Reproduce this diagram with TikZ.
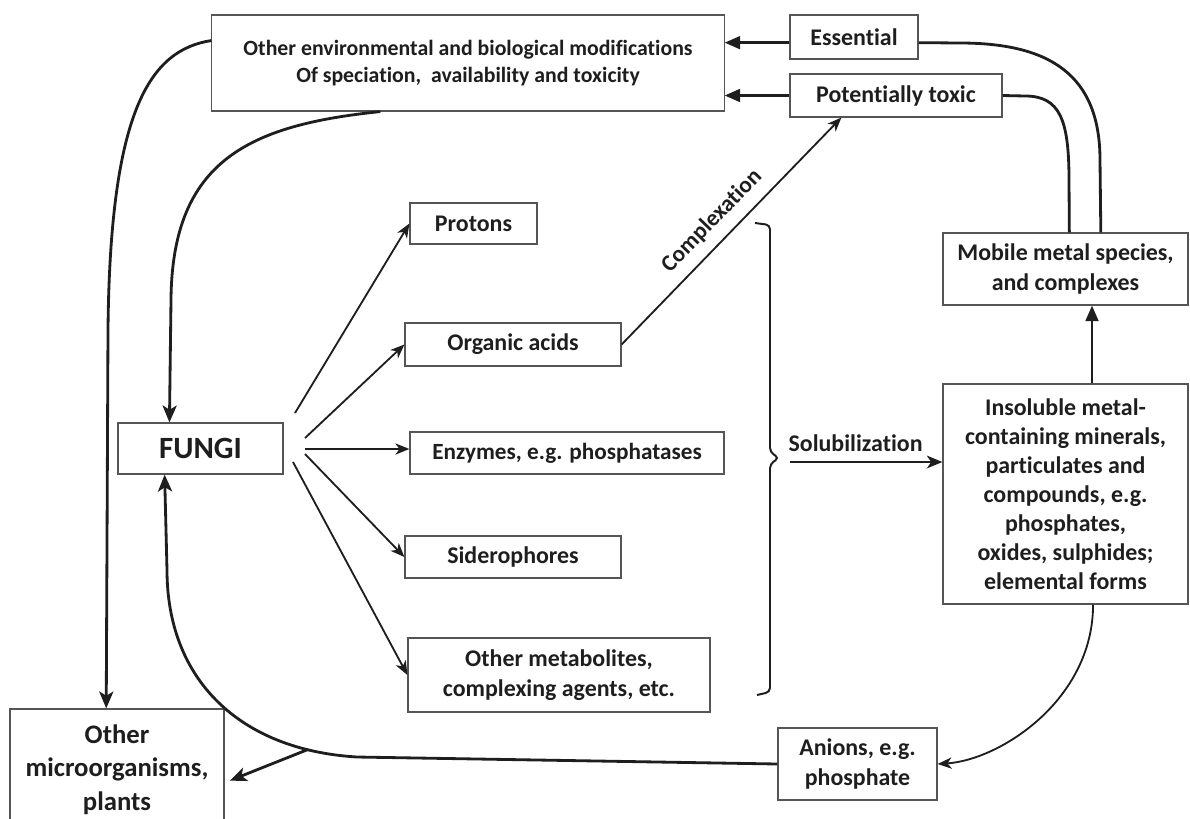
\documentclass[tikz,border=0pt]{standalone}
\usepackage{fontspec}
\setmainfont{Carlito}[Ligatures=NoCommon]
\usetikzlibrary{arrows.meta,calc}
\definecolor{inkgray}{HTML}{1E1E1E}
\definecolor{framegray}{HTML}{555555}

\tikzset{
  box/.style={draw=framegray, line width=0.8pt, fill=white, align=center, inner sep=0pt,
              text=inkgray, font=\bfseries\fontsize{17}{21}\selectfont},
  link/.style={line width=2pt, draw=inkgray},
  fan/.style={-{Stealth[length=10pt,width=8pt,inset=3pt]}, line width=1.3pt, draw=inkgray},
  headarr/.style={link, -{Triangle[length=11pt,width=9pt]}},
  openarr/.style={link, -{Stealth[length=12pt,width=10pt,inset=3pt]}},
  lbl/.style={text=inkgray, font=\bfseries\fontsize{17}{21}\selectfont},
}

\begin{document}
\begin{tikzpicture}[x=0.025cm,y=-0.025cm]
  \clip (0,0) rectangle (1190,818);

  % Boxes
  \node[box, minimum width=12.8cm, minimum height=2.4cm, font=\bfseries\fontsize{15.5}{19.5}\selectfont] (env) at (468,63)
    {Other environmental and biological modifications\\Of speciation,\ \ availability and toxicity};
  \node[box, minimum width=3.2cm, minimum height=1.1cm] (ess) at (854,37) {Essential};
  \node[box, minimum width=5.3cm, minimum height=1.075cm] (tox) at (896,95.5) {Potentially toxic};
  \node[box, minimum width=6.125cm, minimum height=1.8cm] (mob) at (1065.5,269) {Mobile metal species,\\and complexes};
  \node[box, minimum width=6.125cm, minimum height=5.5cm, font=\bfseries\fontsize{17}{20.6}\selectfont] (insol) at (1065.5,494)
    {Insoluble metal-\\containing minerals,\\particulates and\\compounds, e.g.\\phosphates,\\oxides, sulphides;\\elemental forms};
  \node[box, minimum width=4.125cm, minimum height=1.275cm, font=\bfseries\fontsize{22}{26}\selectfont] (fungi) at (200.5,448.5) {FUNGI};
  \node[box, minimum width=3.175cm, minimum height=1.025cm] (prot) at (473.5,223.5) {Protons};
  \node[box, minimum width=5.4cm, minimum height=1.075cm] (org) at (513,344.5) {Organic acids};
  \node[box, minimum width=7.85cm, minimum height=1.05cm, font=\bfseries\fontsize{16.5}{20}\selectfont] (enz) at (567,453) {Enzymes, e.g. phosphatases};
  \node[box, minimum width=5.4cm, minimum height=1.05cm] (sid) at (513,557) {Siderophores};
  \node[box, minimum width=7.55cm, minimum height=1.85cm] (met) at (559,675) {Other metabolites,\\complexing agents, etc.};
  \node[box, minimum width=5.35cm, minimum height=3.025cm, font=\bfseries\fontsize{19}{24}\selectfont] (micro) at (117,769.5)
    {Other\\microorganisms,\\plants};
  \node[box, minimum width=3.975cm, minimum height=1.8cm] (anion) at (857.5,764) {Anions, e.g.\\phosphate};

  % Fan out of FUNGI
  \coordinate (f1) at (295,413);
  \coordinate (f2) at (305,438);
  \coordinate (f3) at (305,449);
  \coordinate (f4) at (305,454);
  \coordinate (f5) at (293,462);
  \draw[fan] (f1) -- (prot.west);
  \draw[fan] (f2) -- (org.west);
  \draw[fan] (f3) -- (f3 -| enz.west);
  \draw[fan] (f4) -- (sid.west);
  \draw[fan] (f5) -- (met.west);

  % Bracket and solubilization
  \draw[line width=1.4pt, draw=inkgray, rounded corners=3pt]
    (755,223) -- (770,225) -- (770,452) -- (779,458) -- (770,464) -- (770,692) -- (757,695);
  \coordinate (brk) at (790,462);
  \draw[link, line width=1.7pt, -{Stealth[length=11pt,width=9pt,inset=3pt]}] (brk) --
    node[lbl, above=3pt, pos=0.43] {Solubilization} (brk -| insol.west);

  % Complexation
  \draw[fan] (org.east) -- node[lbl, sloped, above=4pt, pos=0.48, font=\bfseries\fontsize{16.5}{20}\selectfont] {Complexation} (tox.202);

  % Into the top box
  \draw[headarr] (ess.185) -- (ess.185 -| env.east);
  \draw[headarr] (tox.west) -- (tox.west -| env.east);
  \draw[link] (ess.-5) -- (960,43) .. controls (1050,43) and (1100,75) .. (1100,160) -- (mob.46);
  \draw[link] (tox.east) -- (1025,96) .. controls (1060,96) and (1069,120) .. (1069,180) -- (mob.84);
  \draw[headarr] ($(insol.north)+(26.5,0)$) -- ($(mob.south)+(26.5,0)$);

  % Loops on the left
  \draw[openarr] (env.175) .. controls (150,50) and (110,110) .. (108,330) -- (micro.100);
  \draw[openarr] (env.209) .. controls (250,125) and (172,160) .. (171,300) -- (fungi.140);
  \draw[openarr] (anion.west) -- (357,757) .. controls (240,750) and (167,680) .. (167,570)
    coordinate[pos=0.15] (split) -- (fungi.216);
  \draw[openarr, shorten >=4pt] (split) -- (micro.-7);
  \draw[fan] (insol.-76) .. controls (1093,700) and (1000,760) .. (anion.east);
\end{tikzpicture}
\end{document}
